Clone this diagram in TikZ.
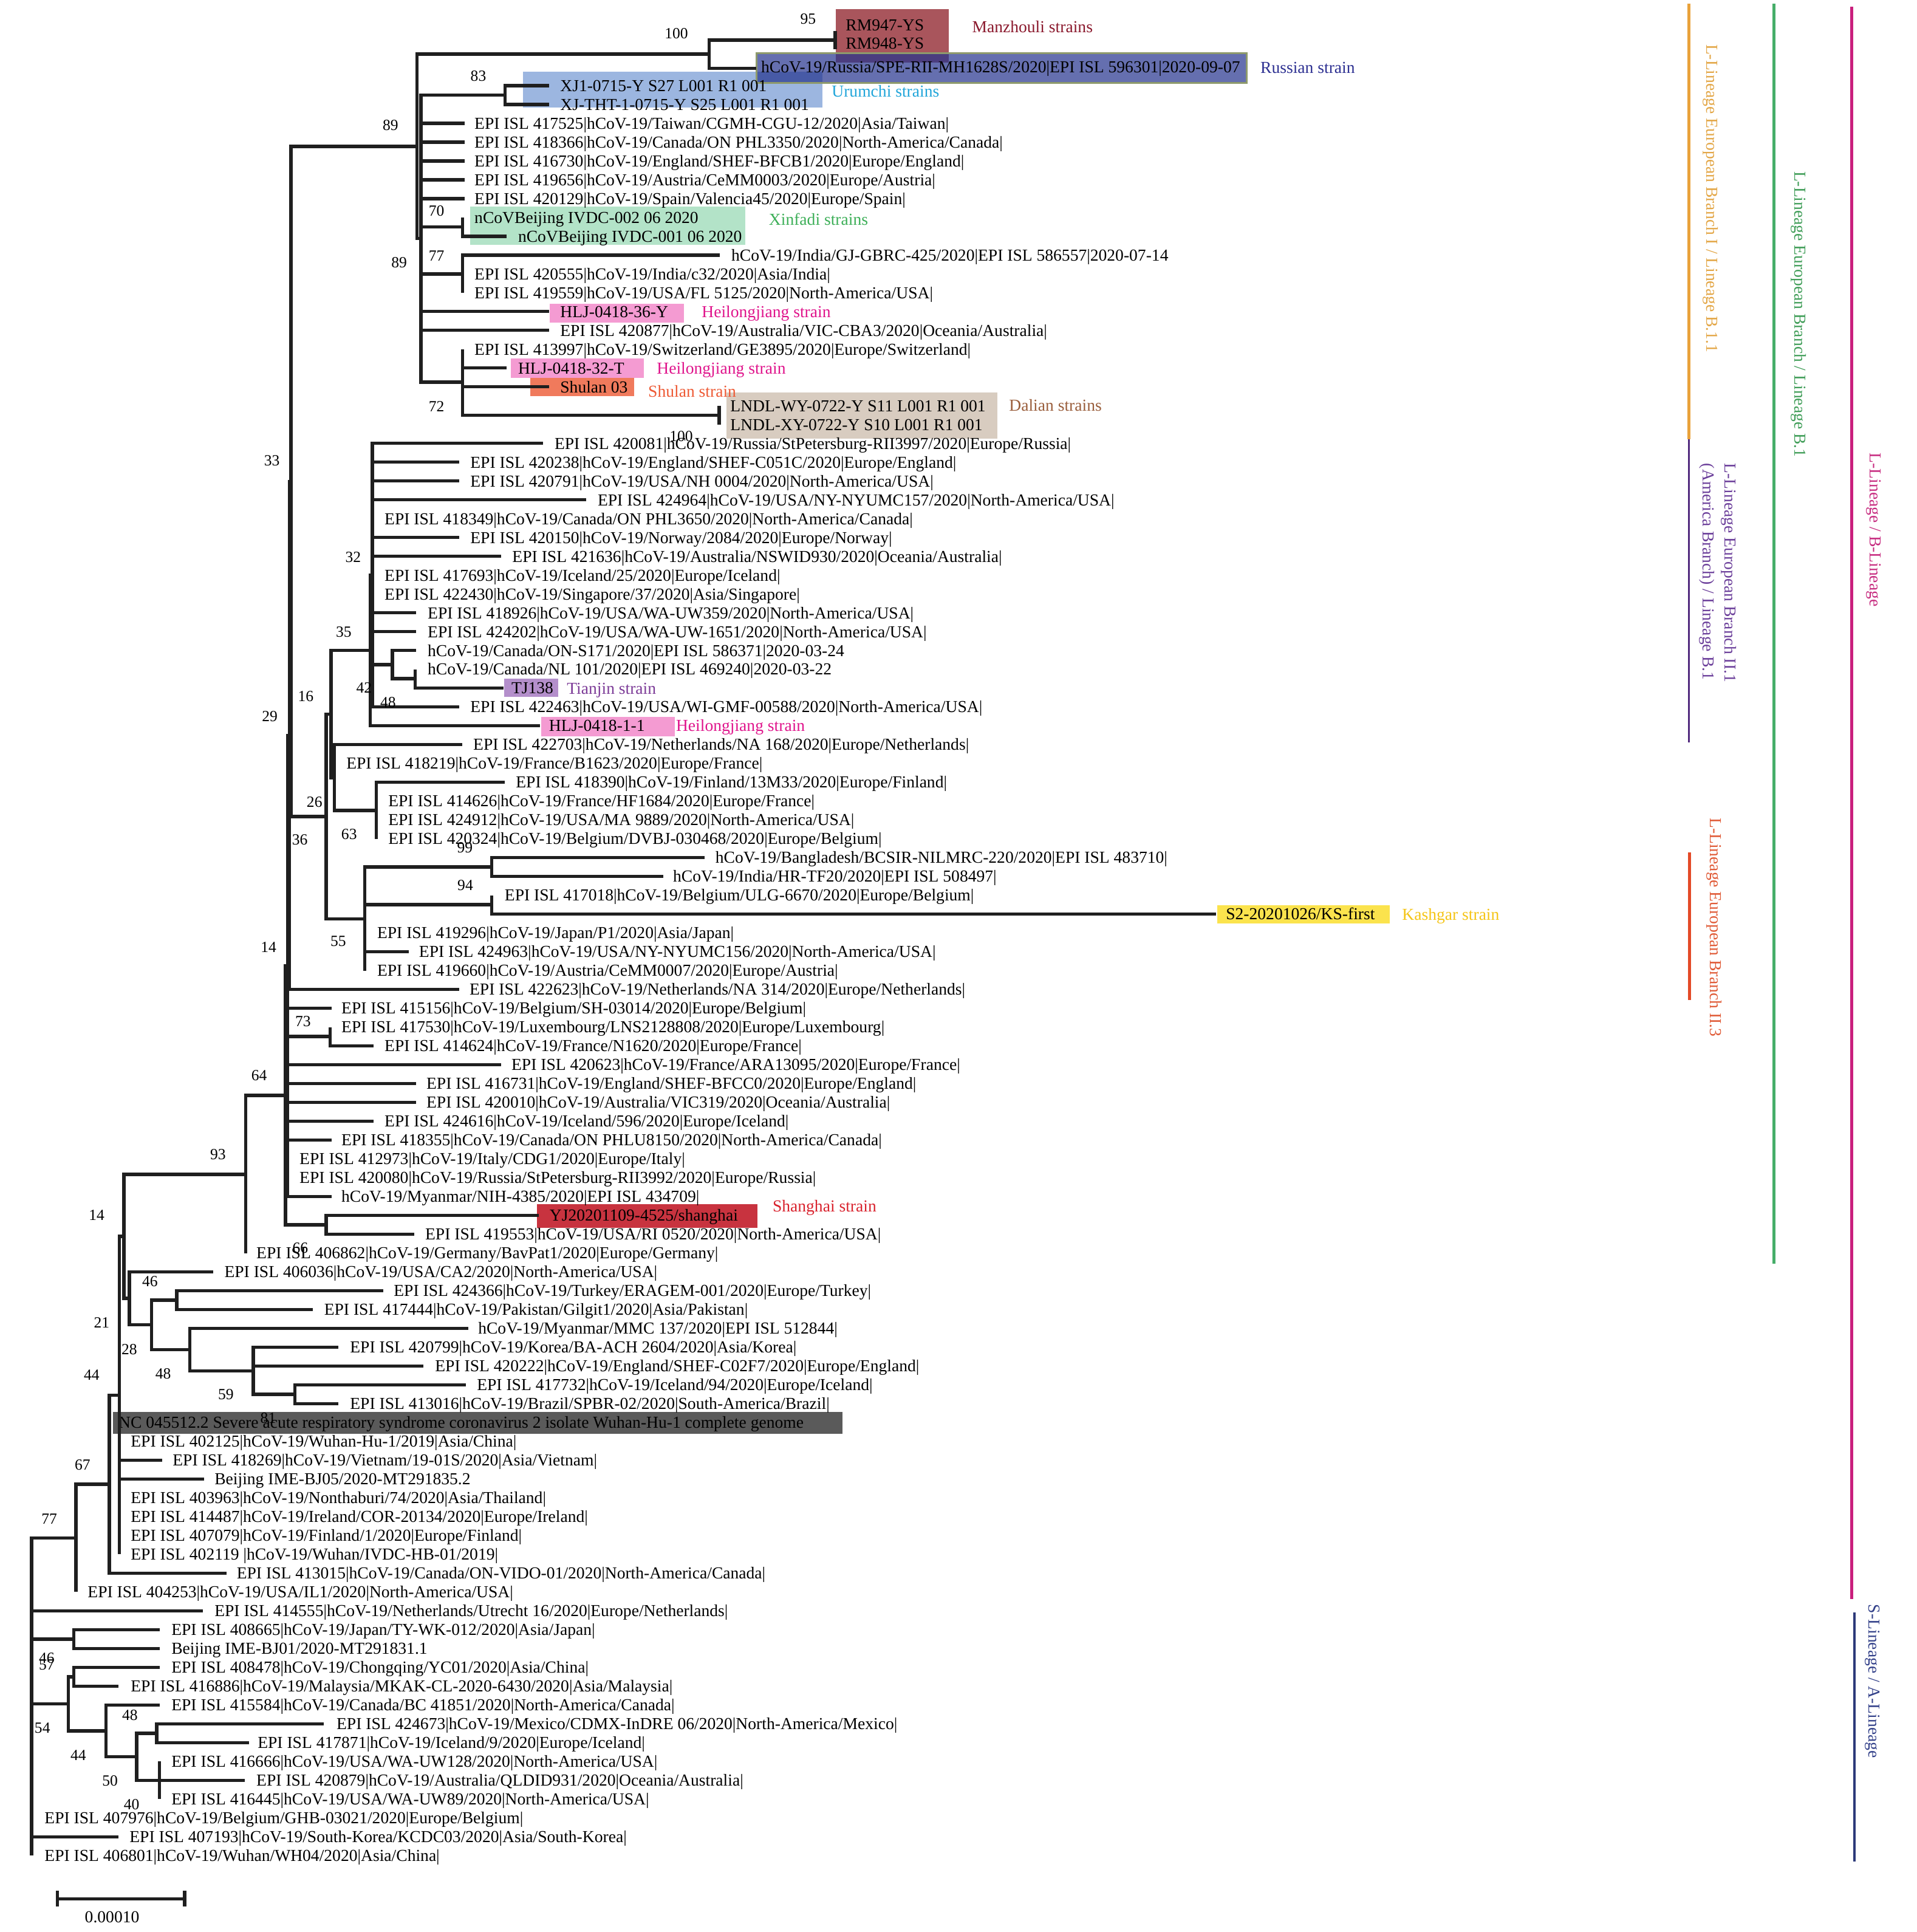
\documentclass[tikz,border=0pt]{standalone}
\usepackage{fontspec}
\setmainfont{Liberation Serif}
\newcommand\tfont{\fontsize{13.6}{15}\selectfont}
\newcommand\bfnt{\fontsize{12.6}{14}\selectfont}
\newcommand\leafA[4]{\coordinate (#1) at (#2,{8.302+15.283*#3});
  \node[lbl] (#1t) at ([xshift=9pt]#1) {#4};}
\newcommand\leafB[5]{\coordinate (#1) at (#2,{8.302+15.283*#3});
  \node[lbl] (#1t) at (#4,{8.302+15.283*#3}) {#5};}
\newcommand\kidsof[2]{\foreach \kk in {#2}{\draw[br] (#1) |- (\kk);}}
\definecolor{cMz}{HTML}{A9555C}
\definecolor{cRu}{HTML}{24338E}
\definecolor{cRuB}{HTML}{8E9A6C}
\definecolor{cUr}{HTML}{9CB6E0}
\definecolor{cXi}{HTML}{B3E3C8}
\definecolor{cHl}{HTML}{F49BD2}
\definecolor{cSh}{HTML}{F07A5C}
\definecolor{cDa}{HTML}{D8CCC0}
\definecolor{cTj}{HTML}{B48FCB}
\definecolor{cKa}{HTML}{FBE34D}
\definecolor{cSg}{HTML}{C8333F}
\definecolor{cNC}{HTML}{5A5A5A}
\definecolor{tMz}{HTML}{8B1A2E}
\definecolor{tRu}{HTML}{2E3192}
\definecolor{tUr}{HTML}{22A6DA}
\definecolor{tXi}{HTML}{3DAF58}
\definecolor{tHl}{HTML}{E0158C}
\definecolor{tSh}{HTML}{EE5A35}
\definecolor{tDa}{HTML}{9A5E3C}
\definecolor{tTj}{HTML}{7D3C98}
\definecolor{tKa}{HTML}{F5C518}
\definecolor{tSg}{HTML}{D9232E}
\definecolor{sOr}{HTML}{E9A23B}
\definecolor{sPu}{HTML}{512A7E}
\definecolor{sRe}{HTML}{E34A27}
\definecolor{sGr}{HTML}{46AE69}
\definecolor{sMa}{HTML}{C91F7D}
\definecolor{sNa}{HTML}{2D3A7A}
\definecolor{tOr}{HTML}{E3A645}
\definecolor{tGr}{HTML}{3F9D57}
\definecolor{tMa}{HTML}{C72C80}
\definecolor{tPu}{HTML}{6B3E9A}
\definecolor{tRe}{HTML}{E05A36}
\definecolor{tNa}{HTML}{33418A}
\begin{document}
\begin{tikzpicture}[x=1pt,y=-1pt,
  br/.style={line width=2.7pt, draw=black!88},
  lbl/.style={anchor=base west, inner sep=0pt, yshift=-4.6pt, font=\tfont},
  bs/.style={inner sep=0pt, font=\bfnt},
  side/.style={rotate=-90, inner sep=0pt, font=\tfont}]
\useasboundingbox[fill=white] (0,0) rectangle (1556,1568);

% highlight boxes
\fill[cUr] (424.6,58.3) rectangle (667.6,87.1);
\fill[cMz] (678.5,7.4) rectangle (770,51);
\fill[cRu,fill opacity=0.7] (614,43) rectangle (1012,67.4);
\draw[cRuB,line width=1.3pt] (614,43) rectangle (1012,67.4);
\fill[cXi] (381.5,167.6) rectangle (605,198.6);
\fill[cHl] (446.3,246.5) rectangle (555,262);
\fill[cHl] (414.5,291) rectangle (522.7,306.5);
\fill[cSh] (430.4,306.5) rectangle (515,321.6);
\fill[cDa] (589.8,318.4) rectangle (809.7,355.9);
\fill[cTj] (409.4,551) rectangle (453,565.5);
\fill[cHl] (439.5,582) rectangle (547.7,597.5);
\fill[cKa] (988,734.5) rectangle (1128,749.5);
\fill[cSg] (436,977.5) rectangle (615,996.5);
\fill[cNC] (91.8,1146) rectangle (684,1163.5);

% leaves
\coordinate (L1) at (678,25); \node[lbl] (L1t) at (686.4,20.5) {RM947-YS};
\coordinate (L2) at (678,40); \node[lbl] (L2t) at (686.4,35) {RM948-YS};
\coordinate (L3) at (614,55.5); \node[lbl] (L3t) at (617.7,54.2) {hCoV-19/Russia/SPE-RII-MH1628S/2020|EPI ISL 596301|2020-09-07};
\leafA{L4}{445.6}{4}{XJ1-0715-Y S27 L001 R1 001}
\leafA{L5}{445.6}{5}{XJ-THT-1-0715-Y S25 L001 R1 001}
\leafB{L6}{377}{6}{385}{EPI ISL 417525|hCoV-19/Taiwan/CGMH-CGU-12/2020|Asia/Taiwan|}
\leafB{L7}{377}{7}{385}{EPI ISL 418366|hCoV-19/Canada/ON PHL3350/2020|North-America/Canada|}
\leafB{L8}{377}{8}{385}{EPI ISL 416730|hCoV-19/England/SHEF-BFCB1/2020|Europe/England|}
\leafB{L9}{377}{9}{385}{EPI ISL 419656|hCoV-19/Austria/CeMM0003/2020|Europe/Austria|}
\leafB{L10}{377}{10}{385}{EPI ISL 420129|hCoV-19/Spain/Valencia45/2020|Europe/Spain|}
\leafB{L11}{375.5}{11}{385}{nCoVBeijing IVDC-002 06 2020}
\leafA{L12}{411.4}{12}{nCoVBeijing IVDC-001 06 2020}
\leafA{L13}{584.5}{13}{hCoV-19/India/GJ-GBRC-425/2020|EPI ISL 586557|2020-07-14}
\leafB{L14}{375.5}{14}{385}{EPI ISL 420555|hCoV-19/India/c32/2020|Asia/India|}
\leafB{L15}{375.5}{15}{385}{EPI ISL 419559|hCoV-19/USA/FL 5125/2020|North-America/USA|}
\leafA{L16}{445.6}{16}{HLJ-0418-36-Y}
\leafA{L17}{445.6}{17}{EPI ISL 420877|hCoV-19/Australia/VIC-CBA3/2020|Oceania/Australia|}
\leafB{L18}{375.5}{18}{385}{EPI ISL 413997|hCoV-19/Switzerland/GE3895/2020|Europe/Switzerland|}
\leafA{L19}{411.4}{19}{HLJ-0418-32-T}
\leafA{L20}{445.6}{20}{Shulan 03}
\leafA{L21}{583.7}{21}{LNDL-WY-0722-Y S11 L001 R1 001}
\leafA{L22}{583.7}{22}{LNDL-XY-0722-Y S10 L001 R1 001}
\leafA{L23}{441}{23}{EPI ISL 420081|hCoV-19/Russia/StPetersburg-RII3997/2020|Europe/Russia|}
\leafA{L24}{372.6}{24}{EPI ISL 420238|hCoV-19/England/SHEF-C051C/2020|Europe/England|}
\leafA{L25}{372.6}{25}{EPI ISL 420791|hCoV-19/USA/NH 0004/2020|North-America/USA|}
\leafA{L26}{476}{26}{EPI ISL 424964|hCoV-19/USA/NY-NYUMC157/2020|North-America/USA|}
\leafB{L27}{302.2}{27}{312}{EPI ISL 418349|hCoV-19/Canada/ON PHL3650/2020|North-America/Canada|}
\leafA{L28}{372.6}{28}{EPI ISL 420150|hCoV-19/Norway/2084/2020|Europe/Norway|}
\leafA{L29}{406.7}{29}{EPI ISL 421636|hCoV-19/Australia/NSWID930/2020|Oceania/Australia|}
\leafB{L30}{302.2}{30}{312}{EPI ISL 417693|hCoV-19/Iceland/25/2020|Europe/Iceland|}
\leafB{L31}{302.2}{31}{312}{EPI ISL 422430|hCoV-19/Singapore/37/2020|Asia/Singapore|}
\leafA{L32}{338}{32}{EPI ISL 418926|hCoV-19/USA/WA-UW359/2020|North-America/USA|}
\leafA{L33}{338}{33}{EPI ISL 424202|hCoV-19/USA/WA-UW-1651/2020|North-America/USA|}
\leafA{L34}{338}{34}{hCoV-19/Canada/ON-S171/2020|EPI ISL 586371|2020-03-24}
\leafB{L35}{337}{35}{347}{hCoV-19/Canada/NL 101/2020|EPI ISL 469240|2020-03-22}
\leafB{L36}{408.8}{36}{415}{TJ138}
\leafA{L37}{372.6}{37}{EPI ISL 422463|hCoV-19/USA/WI-GMF-00588/2020|North-America/USA|}
\leafB{L38}{438.4}{38}{445.5}{HLJ-0418-1-1}
\leafA{L39}{375}{39}{EPI ISL 422703|hCoV-19/Netherlands/NA 168/2020|Europe/Netherlands|}
\leafB{L40}{271.5}{40}{281}{EPI ISL 418219|hCoV-19/France/B1623/2020|Europe/France|}
\leafA{L41}{409.6}{41}{EPI ISL 418390|hCoV-19/Finland/13M33/2020|Europe/Finland|}
\leafB{L42}{305.5}{42}{315}{EPI ISL 414626|hCoV-19/France/HF1684/2020|Europe/France|}
\leafB{L43}{305.5}{43}{315}{EPI ISL 424912|hCoV-19/USA/MA 9889/2020|North-America/USA|}
\leafB{L44}{305.5}{44}{315}{EPI ISL 420324|hCoV-19/Belgium/DVBJ-030468/2020|Europe/Belgium|}
\leafB{L45}{571.9}{45}{580.6}{hCoV-19/Bangladesh/BCSIR-NILMRC-220/2020|EPI ISL 483710|}
\leafB{L46}{538.5}{46}{546.2}{hCoV-19/India/HR-TF20/2020|EPI ISL 508497|}
\leafB{L47}{399.2}{47}{409.5}{EPI ISL 417018|hCoV-19/Belgium/ULG-6670/2020|Europe/Belgium|}
\leafB{L48}{987}{48}{995}{S2-20201026/KS-first}
\leafB{L49}{296.2}{49}{306}{EPI ISL 419296|hCoV-19/Japan/P1/2020|Asia/Japan|}
\leafB{L50}{331.9}{50}{340}{EPI ISL 424963|hCoV-19/USA/NY-NYUMC156/2020|North-America/USA|}
\leafB{L51}{296.2}{51}{306}{EPI ISL 419660|hCoV-19/Austria/CeMM0007/2020|Europe/Austria|}
\leafB{L52}{372.6}{52}{381}{EPI ISL 422623|hCoV-19/Netherlands/NA 314/2020|Europe/Netherlands|}
\leafB{L53}{269.1}{53}{277}{EPI ISL 415156|hCoV-19/Belgium/SH-03014/2020|Europe/Belgium|}
\leafB{L54}{268}{54}{277}{EPI ISL 417530|hCoV-19/Luxembourg/LNS2128808/2020|Europe/Luxembourg|}
\leafB{L55}{303.3}{55}{312}{EPI ISL 414624|hCoV-19/France/N1620/2020|Europe/France|}
\leafB{L56}{406.7}{56}{415}{EPI ISL 420623|hCoV-19/France/ARA13095/2020|Europe/France|}
\leafB{L57}{338}{57}{346}{EPI ISL 416731|hCoV-19/England/SHEF-BFCC0/2020|Europe/England|}
\leafB{L58}{338}{58}{346}{EPI ISL 420010|hCoV-19/Australia/VIC319/2020|Oceania/Australia|}
\leafB{L59}{303.3}{59}{312}{EPI ISL 424616|hCoV-19/Iceland/596/2020|Europe/Iceland|}
\leafB{L60}{269.1}{60}{277}{EPI ISL 418355|hCoV-19/Canada/ON PHLU8150/2020|North-America/Canada|}
\leafB{L61}{233.5}{61}{243}{EPI ISL 412973|hCoV-19/Italy/CDG1/2020|Europe/Italy|}
\leafB{L62}{233.5}{62}{243}{EPI ISL 420080|hCoV-19/Russia/StPetersburg-RII3992/2020|Europe/Russia|}
\leafB{L63}{269.1}{63}{277}{hCoV-19/Myanmar/NIH-4385/2020|EPI ISL 434709|}
\leafB{L64}{437.5}{64}{446}{YJ20201109-4525/shanghai}
\leafB{L65}{336.3}{65}{345}{EPI ISL 419553|hCoV-19/USA/RI 0520/2020|North-America/USA|}
\leafB{L66}{199.4}{66}{208}{EPI ISL 406862|hCoV-19/Germany/BavPat1/2020|Europe/Germany|}
\leafB{L67}{173}{67}{182}{EPI ISL 406036|hCoV-19/USA/CA2/2020|North-America/USA|}
\leafB{L68}{311}{68}{319.5}{EPI ISL 424366|hCoV-19/Turkey/ERAGEM-001/2020|Europe/Turkey|}
\leafB{L69}{254}{69}{263}{EPI ISL 417444|hCoV-19/Pakistan/Gilgit1/2020|Asia/Pakistan|}
\leafB{L70}{380}{70}{388}{hCoV-19/Myanmar/MMC 137/2020|EPI ISL 512844|}
\leafB{L71}{274.5}{71}{284}{EPI ISL 420799|hCoV-19/Korea/BA-ACH 2604/2020|Asia/Korea|}
\leafB{L72}{343.5}{72}{353}{EPI ISL 420222|hCoV-19/England/SHEF-C02F7/2020|Europe/England|}
\leafB{L73}{378}{73}{387}{EPI ISL 417732|hCoV-19/Iceland/94/2020|Europe/Iceland|}
\leafB{L74}{274.5}{74}{284}{EPI ISL 413016|hCoV-19/Brazil/SPBR-02/2020|South-America/Brazil|}
\leafB{L75}{96.8}{75}{96}{NC 045512.2 Severe acute respiratory syndrome coronavirus 2 isolate Wuhan-Hu-1 complete genome}
\leafB{L76}{96.8}{76}{106}{EPI ISL 402125|hCoV-19/Wuhan-Hu-1/2019|Asia/China|}
\leafB{L77}{131.7}{77}{140}{EPI ISL 418269|hCoV-19/Vietnam/19-01S/2020|Asia/Vietnam|}
\leafB{L78}{165.5}{78}{174}{Beijing IME-BJ05/2020-MT291835.2}
\leafB{L79}{96.8}{79}{106}{EPI ISL 403963|hCoV-19/Nonthaburi/74/2020|Asia/Thailand|}
\leafB{L80}{96.8}{80}{106}{EPI ISL 414487|hCoV-19/Ireland/COR-20134/2020|Europe/Ireland|}
\leafB{L81}{96.8}{81}{106}{EPI ISL 407079|hCoV-19/Finland/1/2020|Europe/Finland|}
\leafB{L82}{96.8}{82}{106}{EPI ISL 402119 |hCoV-19/Wuhan/IVDC-HB-01/2019|}
\leafB{L83}{184}{83}{192}{EPI ISL 413015|hCoV-19/Canada/ON-VIDO-01/2020|North-America/Canada|}
\leafB{L84}{61.7}{84}{71}{EPI ISL 404253|hCoV-19/USA/IL1/2020|North-America/USA|}
\leafB{L85}{164.5}{85}{174}{EPI ISL 414555|hCoV-19/Netherlands/Utrecht 16/2020|Europe/Netherlands|}
\leafB{L86}{129.8}{86}{139}{EPI ISL 408665|hCoV-19/Japan/TY-WK-012/2020|Asia/Japan|}
\leafB{L87}{129.8}{87}{139}{Beijing IME-BJ01/2020-MT291831.1}
\leafB{L88}{129.8}{88}{139}{EPI ISL 408478|hCoV-19/Chongqing/YC01/2020|Asia/China|}
\leafB{L89}{96}{89}{106}{EPI ISL 416886|hCoV-19/Malaysia/MKAK-CL-2020-6430/2020|Asia/Malaysia|}
\leafB{L90}{129.8}{90}{139}{EPI ISL 415584|hCoV-19/Canada/BC 41851/2020|North-America/Canada|}
\leafB{L91}{263}{91}{273}{EPI ISL 424673|hCoV-19/Mexico/CDMX-InDRE 06/2020|North-America/Mexico|}
\leafB{L92}{202.3}{92}{209}{EPI ISL 417871|hCoV-19/Iceland/9/2020|Europe/Iceland|}
\leafB{L93}{129.5}{93}{139}{EPI ISL 416666|hCoV-19/USA/WA-UW128/2020|North-America/USA|}
\leafB{L94}{198.9}{94}{208}{EPI ISL 420879|hCoV-19/Australia/QLDID931/2020|Oceania/Australia|}
\leafB{L95}{129.5}{95}{139}{EPI ISL 416445|hCoV-19/USA/WA-UW89/2020|North-America/USA|}
\leafB{L96}{25.7}{96}{36}{EPI ISL 407976|hCoV-19/Belgium/GHB-03021/2020|Europe/Belgium|}
\leafB{L97}{96}{97}{105}{EPI ISL 407193|hCoV-19/South-Korea/KCDC03/2020|Asia/South-Korea|}
\leafB{L98}{25.7}{98}{36}{EPI ISL 406801|hCoV-19/Wuhan/WH04/2020|Asia/China|}

% internal nodes
\coordinate (nM) at (678,32.5);
\coordinate (n100a) at (575.7,44);
\coordinate (nU) at (410,77.08);
\coordinate (nX) at (375.5,184.06);
\coordinate (n77a) at (375.5,222.27);
\coordinate (nD) at (583.7,336.9);
\coordinate (n72) at (375.5,310.15);
\coordinate (n89b) at (341.8,193.6);
\coordinate (n89a) at (338.5,118.8);
\coordinate (n48a) at (337,550.85);
\coordinate (n42) at (318.6,539.4);
\coordinate (n32) at (302.2,466.79);
\coordinate (n35) at (300.6,527.92);
\coordinate (n63) at (305.5,657.83);
\coordinate (n26) at (271.5,631.1);
\coordinate (n16) at (268.7,579.5);
\coordinate (n99) at (399.2,703.68);
\coordinate (n94) at (399.2,734.24);
\coordinate (n55) at (296.2,745.7);
\coordinate (n36) at (264.7,662.6);
\coordinate (n33) at (236.3,390.7);
\coordinate (n29) at (235,596.9);
\coordinate (n73) at (268,841.2);
\coordinate (n14b) at (233.5,784);
\coordinate (n66) at (264.7,994.05);
\coordinate (n64) at (231.8,889);
\coordinate (n93) at (199.4,953);
\coordinate (n46a) at (143.4,1055.19);
\coordinate (n81) at (239.4,1131.6);
\coordinate (n59) at (205.6,1112.5);
\coordinate (n48c) at (154,1095.3);
\coordinate (n28) at (123,1075.25);
\coordinate (n21) at (105,1053.76);
\coordinate (n14) at (100.6,1003.4);
\coordinate (n44a) at (96.8,1132.44);
\coordinate (n67) at (88.7,1204.6);
\coordinate (n77) at (61.7,1248.3);
\coordinate (n46b) at (60,1330.28);
\coordinate (n57) at (60,1360.85);
\coordinate (n48b) at (127.1,1406.7);
\coordinate (n40) at (129.5,1444.9);
\coordinate (n50) at (110.9,1425.8);
\coordinate (n44b) at (86,1404.8);
\coordinate (n54) at (55.5,1382.8);
\coordinate (root) at (25.7,1377.2);

% branches
\kidsof{nM}{L1,L2}
\kidsof{n100a}{nM,L3}
\kidsof{nU}{L4,L5}
\kidsof{nX}{L11,L12}
\kidsof{n77a}{L13,L14,L15}
\kidsof{nD}{L21,L22}
\kidsof{n72}{L18,L19,L20,nD}
\kidsof{n89b}{nU,L6,L7,L8,L9,L10,nX,n77a,L16,L17,n72}
\kidsof{n89a}{n100a,n89b}
\kidsof{n48a}{L35,L36}
\kidsof{n42}{L34,n48a}
\kidsof{n32}{L23,L24,L25,L26,L27,L28,L29,L30,L31,L32,L33,n42,L37}
\kidsof{n35}{n32,L38}
\kidsof{n63}{L41,L42,L43,L44}
\kidsof{n26}{L39,L40,n63}
\kidsof{n16}{n35,n26}
\kidsof{n99}{L45,L46}
\kidsof{n94}{L47,L48}
\kidsof{n55}{n99,n94,L49,L50,L51}
\kidsof{n36}{n16,n55}
\kidsof{n33}{n89a,n36}
\kidsof{n29}{n33,L52}
\kidsof{n73}{L54,L55}
\kidsof{n14b}{n29,L53,n73,L56,L57,L58,L59,L60,L61,L62,L63}
\kidsof{n66}{L64,L65}
\kidsof{n64}{n14b,n66}
\kidsof{n93}{n64,L66}
\kidsof{n46a}{L68,L69}
\kidsof{n81}{L73,L74}
\kidsof{n59}{L71,L72,n81}
\kidsof{n48c}{L70,n59}
\kidsof{n28}{n46a,n48c}
\kidsof{n21}{L67,n28}
\kidsof{n14}{n93,n21}
\kidsof{n44a}{n14,L75,L76,L77,L78,L79,L80,L81,L82}
\kidsof{n67}{n44a,L83}
\kidsof{n77}{n67,L84}
\kidsof{n46b}{L86,L87}
\kidsof{n57}{L88,L89}
\kidsof{n48b}{L91,L92}
\kidsof{n40}{L93,L94,L95}
\kidsof{n50}{n48b,n40}
\kidsof{n44b}{L90,n50}
\kidsof{n54}{n57,n44b}
\kidsof{root}{n77,L85,n46b,n54,L96,L97,L98}

% bootstrap values
\node[bs] (b1) at (549,27) {100};
\node[bs] (b2) at (656,15.6) {95};
\node[bs] (b3) at (388.3,61.5) {83};
\node[bs] (b4) at (317,101.7) {89};
\node[bs] (b5) at (354.3,171) {70};
\node[bs] (b6) at (324,213) {89};
\node[bs] (b7) at (354.3,207.8) {77};
\node[bs] (b8) at (354.3,330) {72};
\node[bs] (b9) at (553,354) {100};
\node[bs] (b10) at (220.7,374) {33};
\node[bs] (b11) at (286.7,452) {32};
\node[bs] (b12) at (279,513) {35};
\node[bs] (b13) at (248.2,565) {16};
\node[bs] (b14) at (295.5,558.4) {42};
\node[bs] (b15) at (315,570) {48};
\node[bs] (b16) at (219,581.3) {29};
\node[bs] (b17) at (255.3,650.8) {26};
\node[bs] (b18) at (243.4,681.4) {36};
\node[bs] (b19) at (283.4,677) {63};
\node[bs] (b20) at (377.4,688) {99};
\node[bs] (b21) at (377.7,718.5) {94};
\node[bs] (b22) at (274.6,764) {55};
\node[bs] (b23) at (218,768.5) {14};
\node[bs] (b24) at (246,829) {73};
\node[bs] (b25) at (210.4,872.6) {64};
\node[bs] (b26) at (177,937) {93};
\node[bs] (b27) at (243.8,1012.8) {66};
\node[bs] (b28) at (78.5,986.3) {14};
\node[bs] (b29) at (121.7,1040) {46};
\node[bs] (b30) at (82.5,1073.2) {21};
\node[bs] (b31) at (105,1095) {28};
\node[bs] (b32) at (132.5,1115) {48};
\node[bs] (b33) at (74.4,1116) {44};
\node[bs] (b34) at (183.4,1131.5) {59};
\node[bs] (b35) at (217.7,1151) {81};
\node[bs] (b36) at (67,1188.8) {67};
\node[bs] (b37) at (40,1232.7) {77};
\node[bs] (b38) at (37.9,1345.9) {46};
\node[bs] (b39) at (37.9,1351) {57};
\node[bs] (b40) at (34.4,1402.4) {54};
\node[bs] (b41) at (105.5,1392) {48};
\node[bs] (b42) at (63.6,1424.3) {44};
\node[bs] (b43) at (89.3,1445.3) {50};
\node[bs] (b44) at (106.8,1464.5) {40};

% strain annotations
\node[lbl,text=tMz] (aMz) at (789,21.9) {Manzhouli strains};
\node[lbl,text=tRu] (aRu) at (1023,55) {Russian strain};
\node[lbl,text=tUr] (aUr) at (675,74) {Urumchi strains};
\node[lbl,text=tXi] (aXi) at (624,178) {Xinfadi strains};
\node[lbl,text=tHl] (aH1) at (569.5,253) {Heilongjiang strain};
\node[lbl,text=tHl] (aH2) at (533,299) {Heilongjiang strain};
\node[lbl,text=tSh] (aSh) at (526,317.5) {Shulan strain};
\node[lbl,text=tDa] (aDa) at (819,329) {Dalian strains};
\node[lbl,text=tTj] (aTj) at (460,558.5) {Tianjin strain};
\node[lbl,text=tHl] (aH3) at (548.6,589) {Heilongjiang strain};
\node[lbl,text=tKa] (aKa) at (1138,742) {Kashgar strain};
\node[lbl,text=tSg] (aSg) at (627,979) {Shanghai strain};

% lineage bars
\coordinate (oT) at (1371,2.8); \coordinate (oB) at (1371,356.6);
\coordinate (pT) at (1371,356.6); \coordinate (pB) at (1371,602.6);
\coordinate (rT) at (1371.5,692); \coordinate (rB) at (1371.5,811.7);
\coordinate (gT) at (1440,2.8); \coordinate (gB) at (1440,1025.7);
\coordinate (mT) at (1503,5.5); \coordinate (mB) at (1503,1298);
\coordinate (vT) at (1505.3,1308.5); \coordinate (vB) at (1505.3,1510.6);
\draw[sOr,line width=2.6pt] (oT) -- (oB);
\draw[sPu,line width=1.8pt] (pT) -- (pB);
\draw[sRe,line width=2.6pt] (rT) -- (rB);
\draw[sGr,line width=2.2pt] (gT) -- (gB);
\draw[sMa,line width=2.4pt] (mT) -- (mB);
\draw[sNa,line width=1.6pt] (vT) -- (vB);
\node[side,text=tOr] (s1) at (1388.5,161) {L-Lineage European Branch I / Lineage B.1.1};
\node[side,text=tGr] (s2) at (1460,255) {L-Lineage European Branch / Lineage B.1};
\node[side,text=tMa] (s3) at (1521,430) {L-Lineage / B-Lineage};
\node[side,text=tPu,anchor=west] (s4) at (1403.5,376) {L-Lineage European Branch II.1};
\node[side,text=tPu,anchor=west] (s5) at (1385.5,376) {(America Branch) / Lineage B.1};
\node[side,text=tRe] (s6) at (1391.5,752.5) {L-Lineage European Branch II.3};
\node[side,text=tNa] (s7) at (1520,1364.5) {S-Lineage / A-Lineage};

% scale bar
\coordinate (sA) at (46.5,1541); \coordinate (sB) at (150,1541);
\draw[br] (sA) -- (sB);
\draw[br] ([yshift=6.5pt]sA) -- ([yshift=-6.5pt]sA);
\draw[br] ([yshift=6.5pt]sB) -- ([yshift=-6.5pt]sB);
\node[inner sep=0pt,font=\tfont] (sL) at (91,1556) {0.00010};
\end{tikzpicture}
\end{document}
